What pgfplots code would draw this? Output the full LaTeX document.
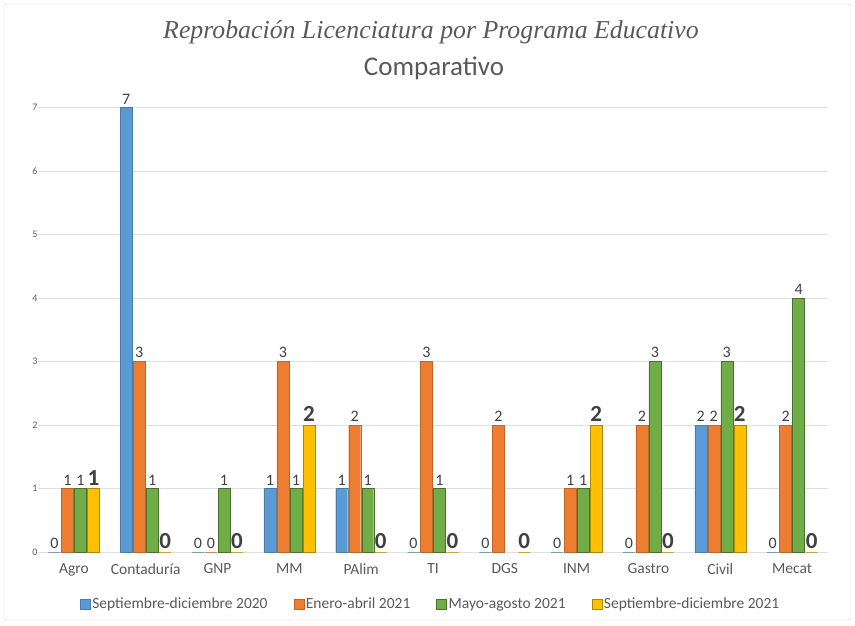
\documentclass[border=0pt]{standalone}
\usepackage{pgfplots}
\pgfplotsset{compat=1.18}
\usepackage{pgfplotstable}
\usepackage{fontspec}
\setmainfont{Carlito}
\newfontfamily\titlefont{Liberation Serif}

\definecolor{cblue}{HTML}{5B9BD5}
\definecolor{corange}{HTML}{ED7D31}
\definecolor{cgreen}{HTML}{70AD47}
\definecolor{cyellow}{HTML}{FFC000}
\definecolor{txt}{HTML}{595959}
\definecolor{lbl}{HTML}{404040}

% reprobados por programa y periodo
\pgfplotstableread{
x  sd20 ea21 ma21 sd21
0  0    1    1    1
1  7    3    1    0
2  0    0    1    0
3  1    3    1    2
4  1    2    1    0
5  0    3    1    0
6  0    2    nan  0
7  0    1    1    2
8  0    2    3    0
9  2    2    3    2
10 0    2    4    0
}\datos

\begin{document}
\begin{tikzpicture}
\useasboundingbox (0,0) rectangle (855pt,625pt);
\draw[gray!35, rounded corners=3pt] (4pt,5pt) rectangle (851pt,621pt);
\node[font=\titlefont\itshape\fontsize{25.8}{25.8}\selectfont, text=txt] at (431pt,593pt)
  {Reprobación Licenciatura por Programa Educativo};
\node[font=\fontsize{27}{27}\selectfont, text=txt] at (434pt,557pt) {Comparativo};
\begin{axis}[
  at={(38pt,73pt)}, anchor=south west,
  scale only axis, width=790pt, height=444.5pt,
  ymin=0, ymax=7, xmin=-0.5, xmax=10.5,
  ybar=1pt, bar width=12pt,
  xtick={0,...,10},
  xticklabels={Agro,Contaduría,GNP,MM,PAlim,TI,DGS,INM,Gastro,Civil,Mecat},
  ytick={0,...,7},
  ymajorgrids, grid style={gray!25},
  axis line style={draw=none},
  major tick length=0pt,
  tick label style={text=txt},
  xticklabel style={font=\fontsize{15.5}{15.5}\selectfont, yshift=-8pt},
  yticklabel style={font=\fontsize{10}{10}\selectfont, xshift=3pt},
  /pgf/number format/assume math mode=true,
  clip=false,
  unbounded coords=discard,
  nodes near coords,
  nodes near coords style={text=lbl, font=\fontsize{16}{16}\selectfont},
  legend columns=4,
  legend style={at={(0.497,-0.117)}, anchor=center, draw=none,
    font=\fontsize{15.5}{15.5}\selectfont, text=txt,
    /tikz/every even column/.append style={column sep=24pt}},
  legend image code/.code={\fill[#1] (2pt,-5pt) rectangle (12pt,5pt);},
]
\addplot[fill=cblue, draw=cblue!80!black, line width=0.3pt] table[x=x, y=sd20] {\datos};
\addplot[fill=corange, draw=corange!80!black, line width=0.3pt] table[x=x, y=ea21] {\datos};
\addplot[fill=cgreen, draw=cgreen!65!black, line width=0.3pt] table[x=x, y=ma21] {\datos};
\addplot[fill=cyellow, draw=cyellow!70!black, line width=0.3pt,
  nodes near coords style={font=\bfseries\fontsize{23}{23}\selectfont}] table[x=x, y=sd21] {\datos};
\legend{Septiembre-diciembre 2020, Enero-abril 2021, Mayo-agosto 2021, Septiembre-diciembre 2021}
\end{axis}
\end{tikzpicture}
\end{document}
